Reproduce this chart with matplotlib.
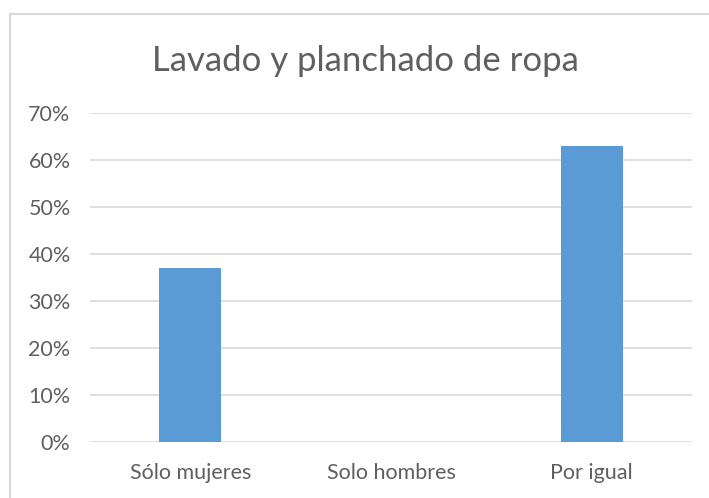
import matplotlib.pyplot as plt
from matplotlib.ticker import PercentFormatter
from matplotlib.lines import Line2D

# Data
categories = ['Sólo mujeres', 'Solo hombres', 'Por igual']
values = [0.37, 0.0, 0.63]
yticks = [0, 0.1, 0.2, 0.3, 0.4, 0.5, 0.6, 0.7]

plt.rcParams['font.family'] = ['Lato', 'DejaVu Sans']
text_color = '#5f5f5f'

fig = plt.figure(figsize=(7.09, 4.98), dpi=100)
ax = fig.add_axes([0.127, 0.1124, 0.849, 0.6606])

ax.bar(range(len(categories)), values, width=0.31, color='#5b9bd5', zorder=3)

ax.set_xlim(-0.5, 2.5)
ax.set_ylim(0, 0.7)
ax.set_yticks(yticks)
ax.yaxis.set_major_formatter(PercentFormatter(1.0, decimals=0))
ax.set_xticks(range(len(categories)))
ax.set_xticklabels(categories)

ax.grid(axis='y', color='#d9d9d9', linewidth=1.2, zorder=0)
for s in ax.spines.values():
    s.set_visible(False)
ax.tick_params(axis='both', length=0, labelsize=15.5, colors=text_color)
ax.tick_params(axis='y', pad=14)
ax.tick_params(axis='x', pad=15)

fig.text(0.515, 0.877, 'Lavado y planchado de ropa', ha='center', va='center',
         fontsize=25, color=text_color)

# chart border (left and top edges visible)
fig.add_artist(Line2D([0.0141, 0.0141], [0, 0.972], transform=fig.transFigure,
                      color='#d9d9d9', linewidth=1.5))
fig.add_artist(Line2D([0.0141, 1.0], [0.972, 0.972], transform=fig.transFigure,
                      color='#d9d9d9', linewidth=1.5))

fig.savefig('out.png', dpi=100)
